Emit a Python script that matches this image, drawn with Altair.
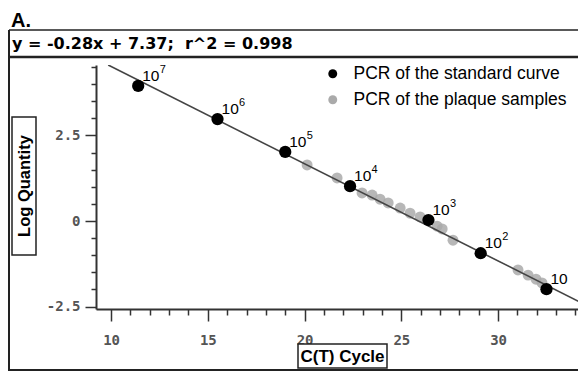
import altair as alt
import pandas as pd

# ---------------- data ----------------
SERIES = ["PCR of the standard curve", "PCR of the plaque samples"]

std_x = [11.4, 15.5, 19.0, 22.35, 26.4, 29.1, 32.5]
std_y = [3.95, 2.98, 2.02, 1.02, 0.03, -0.94, -1.99]
std_base = ["10", "10", "10", "10", "10", "10", "10"]
std_exp = ["7", "6", "5", "4", "3", "2", ""]

plq_x = [20.13, 21.68, 22.97, 23.49, 23.90, 24.32, 24.94, 25.45,
         25.97, 26.85, 27.11, 27.67, 31.03, 31.55, 31.96, 32.27]
plq_y = [1.64, 1.26, 0.82, 0.76, 0.64, 0.53, 0.38, 0.23,
         0.12, -0.15, -0.23, -0.56, -1.43, -1.58, -1.70, -1.81]

fit_x = [9.85, 34.55]
fit_y = [4.56, -2.46]

x_ticks = [10, 11, 12, 13, 14, 15, 16, 17, 18, 19, 20, 21, 22,
           23, 24, 25, 26, 27, 28, 29, 30, 31, 32, 33, 34]
y_ticks = [-2.5, -2.0, -1.5, -1.0, -0.5, 0.0, 0.5, 1.0, 1.5,
           2.0, 2.5, 3.0, 3.5, 4.0, 4.5]

EQUATION = "y = -0.28x + 7.37;\u00a0 r^2 = 0.998"
PANEL = "A."
X_TITLE = "C(T) Cycle"
Y_TITLE = "Log Quantity"

std_df = pd.DataFrame({"x": std_x, "y": std_y, "base": std_base, "exp": std_exp,
                       "series": SERIES[0]})
plq_df = pd.DataFrame({"x": plq_x, "y": plq_y, "series": SERIES[1]})
fit_df = pd.DataFrame({"x": fit_x, "y": fit_y})
one = pd.DataFrame({"d": [0]})

# ---------------- scales / axes ----------------
W, H = 482, 244
xscale = alt.Scale(domain=[9.22, 34.13], nice=False, zero=False)
yscale = alt.Scale(domain=[-2.57, 4.56], nice=False, zero=False)
cscale = alt.Scale(domain=SERIES, range=["#000000", "#aaaaaa"])

tick_font = "DejaVu Sans Mono"
xaxis = alt.Axis(
    values=x_ticks, title=None, grid=False,
    labelExpr="datum.value % 5 === 0 ? '' + datum.value : ''",
    tickSize={"condition": {"test": "datum.value % 5 === 0", "value": 12}, "value": 6},
    labelPadding=12, labelFont=tick_font, labelFontWeight="bold", labelFontSize=14,
    labelColor="#555555", labelOverlap=False, labelFlush=False,
    domainColor="#333333", domainWidth=2, tickColor="#333333", tickWidth=1.5,
)
yaxis = alt.Axis(
    values=y_ticks, title=None, grid=False,
    labelExpr="datum.value % 2.5 === 0 ? '' + datum.value : ''",
    tickSize={"condition": {"test": "datum.value % 2.5 === 0", "value": 11}, "value": 5},
    labelPadding=5, labelFont=tick_font, labelFontWeight="bold", labelFontSize=14,
    labelColor="#555555", labelOverlap=False, labelFlush=False,
    domainColor="#333333", domainWidth=2, tickColor="#333333", tickWidth=1.5,
)

X = alt.X("x:Q", scale=xscale, axis=xaxis)
Y = alt.Y("y:Q", scale=yscale, axis=yaxis)

legend = alt.Legend(
    orient="none", legendX=228, legendY=0, title=None, padding=0,
    symbolType="circle", symbolSize=80, symbolStrokeWidth=0, symbolOpacity=1,
    labelFont="Liberation Sans", labelFontSize=17.5, labelColor="#000000",
    labelOffset=12, rowPadding=7, labelLimit=400,
)
C = alt.Color("series:N", scale=cscale, legend=legend, sort=SERIES)

plaque = alt.Chart(plq_df).mark_circle(size=120, opacity=0.85).encode(x=X, y=Y, color=C)
fit = alt.Chart(fit_df).mark_line(color="#444444", strokeWidth=1.6, clip=True).encode(x=X, y=Y)
standard = alt.Chart(std_df).mark_circle(size=150, opacity=1).encode(x=X, y=Y, color=C)
labels = alt.Chart(std_df).mark_text(
    align="left", baseline="alphabetic", dx=4, dy=-5, fontSize=15.5,
    font="Liberation Sans", color="#000000"
).encode(x=X, y=Y, text="base:N")
exps = alt.Chart(std_df).mark_text(
    align="left", baseline="alphabetic", dx=21.5, dy=-13, fontSize=11,
    font="Liberation Sans", color="#000000"
).encode(x=X, y=Y, text="exp:N")

# ---------------- frame & boxed titles (decoration) ----------------
LINE = "#222222"
deco = [
    alt.Chart(one).mark_rule(color=LINE, strokeWidth=2).encode(
        x=alt.value(-87), y=alt.value(-35), y2=alt.value(306)),
    alt.Chart(one).mark_rule(color=LINE, strokeWidth=1.5).encode(
        x=alt.value(-87), x2=alt.value(W), y=alt.value(-35)),
    alt.Chart(one).mark_rule(color=LINE, strokeWidth=2.5).encode(
        x=alt.value(-87), x2=alt.value(W), y=alt.value(-8)),
    alt.Chart(one).mark_rule(color=LINE, strokeWidth=2).encode(
        x=alt.value(-87), x2=alt.value(W), y=alt.value(305)),
    alt.Chart(one).mark_rect(fill="white", stroke=LINE, strokeWidth=1.5).encode(
        x=alt.value(202), x2=alt.value(291), y=alt.value(279), y2=alt.value(303)),
    alt.Chart(one).mark_rect(fill="white", stroke=LINE, strokeWidth=1.5).encode(
        x=alt.value(-84), x2=alt.value(-60), y=alt.value(52), y2=alt.value(190)),
    alt.Chart(one).mark_text(text=X_TITLE, fontSize=17, fontWeight="bold",
                             font="Liberation Sans", baseline="middle", align="center",
                             color="#000000").encode(
        x=alt.value(246.5), y=alt.value(291.5)),
    alt.Chart(one).mark_text(text=Y_TITLE, fontSize=16.5, fontWeight="bold", angle=270,
                             font="Liberation Sans", baseline="middle", align="center",
                             color="#000000").encode(
        x=alt.value(-71.5), y=alt.value(121)),
    alt.Chart(one).mark_text(text=EQUATION, fontSize=16, fontWeight="bold",
                             font="DejaVu Sans", baseline="alphabetic", align="left",
                             color="#000000").encode(
        x=alt.value(-84), y=alt.value(-16)),
    alt.Chart(one).mark_text(text=PANEL, fontSize=20, fontWeight="bold",
                             font="Liberation Sans", baseline="alphabetic", align="left",
                             color="#000000").encode(
        x=alt.value(-85), y=alt.value(-38.5)),
]

chart = alt.layer(plaque, fit, standard, labels, exps, *deco).properties(
    width=W, height=H,
    autosize=alt.AutoSizeParams(type="none"),
    padding={"left": 88, "top": 57, "right": 0, "bottom": 62},
    background="white",
).configure_view(stroke=None)

chart.save("out.html", embed_options={"renderer": "svg", "actions": False})
